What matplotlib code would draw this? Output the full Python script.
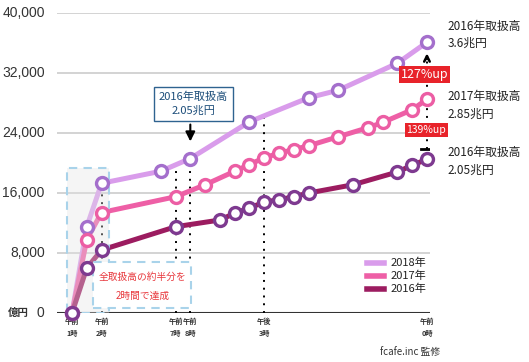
import numpy as np
import matplotlib.pyplot as plt
from matplotlib.lines import Line2D
from matplotlib.patches import Rectangle

plt.rcParams['font.family'] = ['Noto Sans CJK JP', 'DejaVu Sans']

# x positions are hourly slots: 0 = 午前1時 ... 24 = 午前0時
x_2018 = [0, 1, 2, 6, 8, 12, 16, 18, 22, 24]
y_2018 = [0, 11500, 17300, 18900, 20600, 25500, 28700, 29700, 33300, 36100]

x_2017 = [0, 1, 2, 7, 9, 11, 12, 13, 14, 15, 16, 18, 20, 21, 23, 24]
y_2017 = [0, 9800, 13400, 15500, 17100, 18900, 19800, 20700, 21300, 21800,
          22300, 23500, 24700, 25400, 27100, 28500]

x_2016 = [0, 1, 2, 7, 10, 11, 12, 13, 14, 15, 16, 19, 22, 23, 24]
y_2016 = [0, 6000, 8400, 11500, 12400, 13300, 14000, 14800, 15100, 15500,
          16000, 17100, 18800, 19700, 20500]

yticks = [0, 8000, 16000, 24000, 32000, 40000]
xtick_pos = [0, 2, 7, 8, 13, 24]
xtick_lab = ['午前\n1時', '午前\n2時', '午前\n7時', '午前\n8時', '午後\n3時', '午前\n0時']
dotted_x = [2, 7, 8, 13]

series = [
    ('2018年', x_2018, y_2018, '#d99ceb', '#a46fcc'),
    ('2017年', x_2017, y_2017, '#ee5fa6', '#ec5ea4'),
    ('2016年', x_2016, y_2016, '#9c1c60', '#7e3a90'),
]

W, H = 529, 362
fig = plt.figure(figsize=(W / 100, H / 100), dpi=100)
x0, x1, ytop, ybot = 57, 430, 13, 313
ax = fig.add_axes([x0 / W, 1 - ybot / H, (x1 - x0) / W, (ybot - ytop) / H])
slot = 14.79
ax.set_xlim((x0 - 72) / slot, (x1 - 72) / slot)
ax.set_ylim(0, 40000)
for s in ax.spines.values():
    s.set_visible(False)
ax.set_xticks([])
ax.set_yticks([])

# grid
for v in yticks[1:]:
    ax.axhline(v, color='#cccccc', lw=1.2, zorder=0)
ax.axhline(0, color='#333333', lw=1.5, zorder=1)

for v in yticks:
    ax.text(-1.85, v, f'{v:,}', ha='right', va='center', fontsize=10,
            color='#333333', family=['Liberation Sans'], clip_on=False)
ax.text(-3.65, 0, '億円', ha='center', va='center', fontsize=7.5,
        fontweight='bold', color='#333333', clip_on=False)

for p, lab in zip(xtick_pos, xtick_lab):
    ax.text(p, -550, lab, ha='center', va='top', fontsize=5.2,
            fontweight='bold', color='#333333', linespacing=1.9,
            clip_on=False)

# dotted guides down from the 2018 line
for p in dotted_x:
    top = np.interp(p, x_2018, y_2018)
    ax.plot([p, p], [0, top], color='black', lw=1.4,
            ls=(0, (1, 3)), zorder=1)

# lines
for name, xs, ys, lc, mc in series:
    ax.plot(xs, ys, color=lc, lw=3.6, zorder=2, solid_capstyle='round')

# grey "first 2 hours" box over the lines
ax.add_patch(Rectangle((-0.35, 0), 2.85, 19400, facecolor='#e4e4e4',
                       alpha=0.35, edgecolor='none', zorder=3))
ax.add_patch(Rectangle((-0.35, 0), 2.85, 19400, facecolor='none',
                       edgecolor='#a9d3ea', lw=1.5, ls=(0, (4, 3)), zorder=3))

for name, xs, ys, lc, mc in series:
    ax.plot(xs, ys, ls='none', marker='o', ms=8.6, mfc='white', mec=mc,
            mew=2.4, zorder=5, clip_on=False)

# text box "全取扱高の約半分を2時間で達成"
ax.add_patch(Rectangle((1.42, 650), 6.6, 6200, facecolor='white',
                       edgecolor='#a9d3ea', lw=1.5, ls=(0, (4, 3)), zorder=4))
ax.text(4.75, 4750, '全取扱高の約半分を', ha='center', va='center',
        fontsize=7, color='#e8383d', zorder=6)
ax.text(4.75, 2350, '2時間で達成', ha='center', va='center',
        fontsize=7, color='#e8383d', zorder=6)

# annotation for 2018 at 8am
ax.annotate('', xy=(8, 22500), xytext=(8, 25500),
            arrowprops=dict(arrowstyle='-|>', color='black', lw=1.5,
                            mutation_scale=14), zorder=6)
ax.text(8.2, 27850, '2016年取扱高\n2.05兆円', ha='center', va='center',
        fontsize=8, color='#1d4e7a', linespacing=1.45, zorder=6,
        bbox=dict(boxstyle='square,pad=0.45', facecolor='white',
                  edgecolor='#2f6390', lw=1))

# growth markers at midnight
ax.plot([24, 24], [21900, 34300], color='black', lw=1.4, ls=(0, (1, 3)),
        zorder=4)
ax.plot([23.6, 24.4], [21870, 21870], color='black', lw=2, zorder=4)
ax.annotate('', xy=(24, 35000), xytext=(24, 33500),
            arrowprops=dict(arrowstyle='->', color='black', lw=1.8,
                            mutation_scale=10), zorder=6)
ax.text(23.85, 31800, '127%up', ha='center', va='center', fontsize=9,
        color='white', zorder=7, clip_on=False,
        bbox=dict(boxstyle='square,pad=0.15', facecolor='#e8232a',
                  edgecolor='none'))
ax.text(23.95, 24400, '139%up', ha='center', va='center', fontsize=7.5,
        color='white', zorder=7, clip_on=False,
        bbox=dict(boxstyle='square,pad=0.15', facecolor='#e8232a',
                  edgecolor='none'))

# right side labels
right_labels = [
    (37100, '2016年取扱高\n3.6兆円'),
    (27700, '2017年取扱高\n2.85兆円'),
    (20200, '2016年取扱高\n2.05兆円'),
]
for v, t in right_labels:
    ax.text(25.4, v, t, ha='left', va='center', fontsize=8.5,
            color='#222222', linespacing=1.45, clip_on=False)

# legend drawn by hand
for i, (name, _, _, lc, _) in enumerate(series):
    yy = 1 - (263 + 13 * i) / H
    fig.add_artist(Line2D([367 / W, 384 / W], [yy, yy], color=lc, lw=4))
    fig.text(391 / W, yy, name, ha='left', va='center', fontsize=8,
             color='#222222')

fig.text(380 / W, 1 - 352 / H, 'fcafe.inc 監修', ha='left', va='center',
         fontsize=7, color='#333333')

fig.savefig('out.png', dpi=100)
